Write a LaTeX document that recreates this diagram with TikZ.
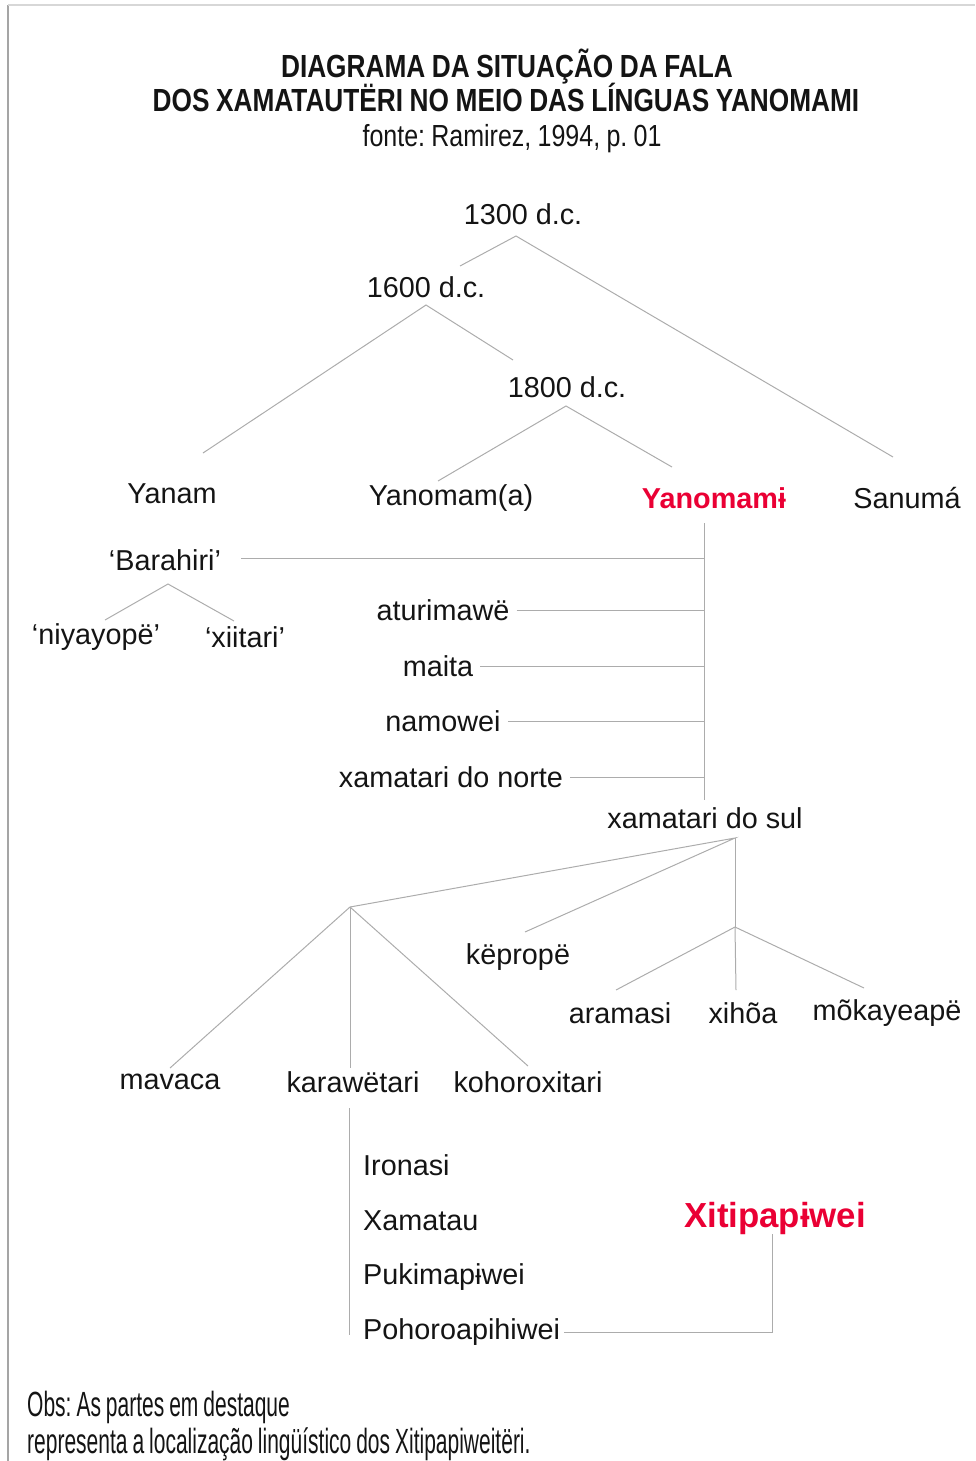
\documentclass[tikz,border=0pt]{standalone}
\usepackage{fontspec}
\setmainfont{Liberation Sans}
\newfontfamily\narrowfont[FakeStretch=0.82,WordSpace=0.9]{Liberation Sans}
\newfontfamily\obsfont[FakeStretch=0.6,WordSpace=0.85]{Liberation Sans}
\definecolor{linegray}{RGB}{172,172,172}
\definecolor{framegray}{RGB}{165,165,165}
\definecolor{framelight}{RGB}{215,215,215}
\definecolor{hlred}{RGB}{234,0,52}
\definecolor{ink}{RGB}{20,20,20}
\frenchspacing

\begin{document}
\begin{tikzpicture}[x=1pt, y=-1pt,
  lang/.style={font=\fontsize{28.8}{34}\selectfont, text=ink, inner sep=4pt},
  hl/.style={font=\fontsize{28.8}{34}\selectfont\bfseries, text=hlred, inner sep=4pt},
  head/.style={font=\narrowfont\bfseries\fontsize{32}{36}\selectfont, text=ink},
  obs/.style={font=\obsfont\fontsize{35}{40}\selectfont, text=ink, anchor=west, inner sep=4pt},
  branch/.style={draw=linegray, line width=1pt}]
  \useasboundingbox (0,0) rectangle (975,1461);
  % frame
  \draw[framegray, line width=1.5pt] (8,1461) -- (8,5);
  \draw[framelight, line width=1.5pt] (8,5) -- (975,5);

  % heading
  \node[head] at (507,67) (title1) {DIAGRAMA DA SITUAÇÃO DA FALA};
  \node[head] at (506,97) (title2) {DOS XAMATAUTËRI NO MEIO DAS LÍNGUAS YANOMAMI};
  \node[font=\narrowfont\fontsize{30.5}{36}\selectfont, text=ink] at (512,139) (source) {fonte: Ramirez, 1994, p. 01};

  % upper tree
  \node[lang] at (523,214) (n1300) {1300 d.c.};
  \node[lang] at (426,287) (n1600) {1600 d.c.};
  \node[lang] at (567,387) (n1800) {1800 d.c.};
  \node[lang] at (172,494) (yanam) {Yanam};
  \node[lang] at (451,498) (yanoma) {Yanomam(a)};
  \node[hl]   at (714,498) (yanomami) {Yanomamɨ};
  \node[lang] at (907,498) (sanuma) {Sanumá};

  \coordinate (j1300) at (516,236);
  \coordinate (j1600) at (426,305);
  \coordinate (j1800) at (566,406);
  \coordinate (to1600) at (460,266);
  \coordinate (toSanuma) at (893,457);
  \coordinate (toYanam) at (203,453);
  \coordinate (to1800) at (513,360);
  \coordinate (toYanoma) at (438,481);
  \coordinate (toYanomami) at (672,467);
  \draw[branch] (to1600) -- (j1300) -- (toSanuma);
  \draw[branch] (toYanam) -- (j1600) -- (to1800);
  \draw[branch] (toYanoma) -- (j1800) -- (toYanomami);

  % Yanomami branch
  \coordinate (stemtop) at (704,523);
  \coordinate (stembot) at (704,800);
  \draw[branch] (stemtop) -- (stembot);

  \node[lang] at (165,560) (barahiri) {‘Barahiri’};
  \node[lang] at (96,637) (niyayope) {‘niyayopë’};
  \node[lang] at (245,637) (xiitari) {‘xiitari’};
  \coordinate (jbar) at (168,584);
  \coordinate (toNiyayope) at (105,620);
  \coordinate (toXiitari) at (234,621);
  \draw[branch] (toNiyayope) -- (jbar) -- (toXiitari);
  \draw[branch] ([xshift=16pt,yshift=2pt]barahiri.east) -- ([yshift=2pt]barahiri.east -| stemtop);

  \node[lang] at (443,610) (aturimawe) {aturimawë};
  \node[lang] at (438,666) (maita) {maita};
  \node[lang] at (443,721) (namowei) {namowei};
  \node[lang] at (451,777) (xnorte) {xamatari do norte};
  \foreach \n in {aturimawe,maita,namowei,xnorte}
    \draw[branch] ([xshift=3pt]\n.east) -- (\n.east -| stemtop);

  % xamatari do sul
  \node[lang] at (705,818) (xsul) {xamatari do sul};
  \node[lang] at (518,957) (keprope) {këpropë};
  \node[lang] at (620,1013) (aramasi) {aramasi};
  \node[lang] at (743,1013) (xihoa) {xihõa};
  \node[lang] at (887,1013) (mokayeape) {mõkayeapë};
  \node[lang] at (170,1082) (mavaca) {mavaca};
  \node[lang] at (353,1082) (karawetari) {karawëtari};
  \node[lang] at (528,1082) (kohoroxitari) {kohoroxitari};

  \coordinate (jsul) at (735,838);
  \coordinate (jwest) at (350,907);
  \coordinate (jeast) at (735,927);
  \coordinate (toKeprope) at (525,932);
  \coordinate (toAramasi) at (616,990);
  \coordinate (toXihoa) at (736,990);
  \coordinate (toMokayeape) at (864,988);
  \coordinate (toMavaca) at (170,1068);
  \coordinate (toKarawetari) at (350,1068);
  \coordinate (toKohoroxitari) at (528,1066);
  \draw[branch] (jwest) -- (jsul) -- (toKeprope);
  \draw[branch] (jsul) -- (jeast);
  \foreach \t in {toAramasi,toXihoa,toMokayeape}
    \draw[branch] (jeast) -- (\t);
  \foreach \t in {toMavaca,toKarawetari,toKohoroxitari}
    \draw[branch] (jwest) -- (\t);

  % karawetari groups
  \node[lang, anchor=west] at (359,1165) (ironasi) {Ironasi};
  \node[lang, anchor=west] at (359,1221) (xamatau) {Xamatau};
  \node[lang, anchor=west] at (359,1277) (pukimapiwei) {Pukimapɨwei};
  \node[lang, anchor=west] at (359,1332) (pohoroapihiwei) {Pohoroapihiwei};
  \coordinate (kartop) at (349,1108);
  \coordinate (karbot) at (349,1335);
  \draw[branch] (kartop) -- (karbot);

  \node[hl, font=\fontsize{34.8}{40}\selectfont\bfseries] at (775,1218) (xitipapiwei) {Xitipapɨwei};
  \draw[branch] (pohoroapihiwei.east) -| ([yshift=4pt]xitipapiwei.south -| 772,0);

  % note
  \node[obs] at (23,1407) (obs1) {Obs: As partes em destaque};
  \node[obs] at (23,1444) (obs2) {representa a localização lingüístico dos Xitipapiweitëri.};
\end{tikzpicture}
\end{document}
